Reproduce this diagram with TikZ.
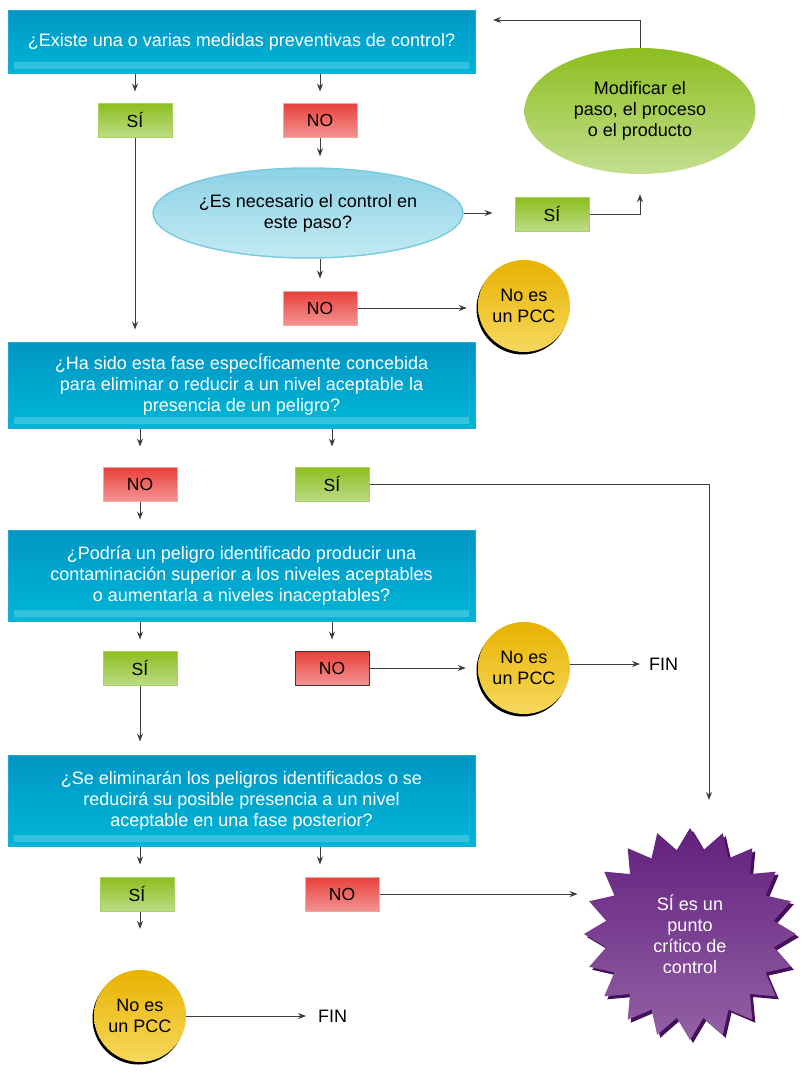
\documentclass[tikz,border=0pt]{standalone}
\usepackage{fontspec}
\setmainfont{Liberation Sans}
\usetikzlibrary{shapes.geometric,arrows.meta,shadows}

\definecolor{qtop}{HTML}{0096C4}
\definecolor{qbot}{HTML}{00B6D7}
\definecolor{qlite}{HTML}{38C4E0}
\definecolor{qedge}{HTML}{1FA9D4}
\definecolor{sitop}{HTML}{8CBE1E}
\definecolor{sibot}{HTML}{BCDC86}
\definecolor{siedge}{HTML}{A9D162}
\definecolor{notop}{HTML}{E8403A}
\definecolor{nobot}{HTML}{F39391}
\definecolor{noedge}{HTML}{F2A5A2}
\definecolor{pcctop}{HTML}{E8B200}
\definecolor{pccbot}{HTML}{F7D85E}
\definecolor{esntop}{HTML}{8CD2E6}
\definecolor{esnbot}{HTML}{C4EAF3}
\definecolor{esnedge}{HTML}{7CCAE0}
\definecolor{modtop}{HTML}{8CBE1E}
\definecolor{modbot}{HTML}{C3DF90}
\definecolor{startop}{HTML}{62207D}
\definecolor{starbot}{HTML}{9461A6}
\definecolor{starsh}{HTML}{45105A}
\definecolor{linegray}{HTML}{3C3C3C}

\begin{document}
\begin{tikzpicture}[x=1pt, y=-1pt,
  every node/.style={font=\fontsize{18}{21}\selectfont},
  qbox/.style={rectangle, minimum width=467pt, text=white, align=center,
    top color=qtop, bottom color=qbot, draw=qedge, line width=1pt,
    path picture={\shade[top color=qbot, bottom color=qlite]
      ([xshift=6pt,yshift=5pt]path picture bounding box.south west) rectangle
      ([xshift=-6pt,yshift=11pt]path picture bounding box.south east);}},
  sibox/.style={rectangle, minimum width=74pt, minimum height=34pt, inner sep=0pt,
    top color=sitop, bottom color=sibot, draw=siedge, line width=1pt,
    font=\fontsize{17.5}{20}\selectfont},
  nobox/.style={sibox, top color=notop, bottom color=nobot, draw=noedge},
  pcc/.style={circle, minimum size=92pt, inner sep=0pt, align=center,
    top color=pcctop, bottom color=pccbot,
    drop shadow={shadow xshift=-1.5pt, shadow yshift=-2.5pt, fill=black, opacity=1}},
  fin/.style={anchor=west, inner sep=0pt},
  arr/.style={draw=linegray, line width=0.9pt, -{Stealth[length=8pt,width=6pt]}}]

\useasboundingbox (0,0) rectangle (803,1076);

\node[qbox, minimum height=63pt] (q1) at (241.5,41.5) {¿Existe una o varias medidas preventivas de control?};
\node[sibox] (si1) at (135,120) {SÍ};
\node[nobox] (no1) at (320,120) {NO};
\node[ellipse, minimum width=310pt, minimum height=90pt, inner sep=0pt, align=center,
  top color=esntop, bottom color=esnbot, draw=esnedge, line width=1.5pt] (esn) at (308,213)
  {¿Es necesario el control en\\este paso?};
\node[sibox] (si2) at (552,214) {SÍ};
\node[ellipse, minimum width=231pt, minimum height=126pt, inner sep=0pt, align=center,
  top color=modtop, bottom color=modbot] (mod) at (640,111)
  {Modificar el\\paso, el proceso\\o el producto};
\coordinate (back) at (493,20);
\node[nobox] (no2) at (320,308) {NO};
\node[pcc] (pcc1) at (524,306) {No es\\un PCC};

\node[qbox, minimum height=86pt] (q2) at (241.5,385) {¿Ha sido esta fase especÍficamente concebida\\para eliminar o reducir a un nivel aceptable la\\presencia de un peligro?};
\node[nobox] (no3) at (140,484) {NO};
\node[sibox] (si3) at (332,484) {SÍ};
\coordinate (c1) at (709,800);

\node[qbox, minimum height=91pt] (q3) at (241.5,575.5) {¿Podría un peligro identificado producir una\\contaminación superior a los niveles aceptables\\o aumentarla a niveles inaceptables?};
\node[sibox] (si4) at (140,668) {SÍ};
\node[nobox, draw=linegray] (no4) at (332,668) {NO};
\node[pcc] (pcc2) at (524,668) {No es\\un PCC};
\node[fin] (fin1) at (649,664) {FIN};

\node[qbox, minimum height=91pt] (q4) at (241.5,800.5) {¿Se eliminarán los peligros identificados o se\\reducirá su posible presencia a un nivel\\aceptable en una fase posterior?};
\node[sibox] (si5) at (137,894) {SÍ};
\node[nobox] (no5) at (342,894) {NO};
\node[pcc] (pcc3) at (140,1016) {No es\\un PCC};
\node[fin] (fin2) at (318,1016) {FIN};

\node[star, star points=20, star point ratio=1.25, minimum size=212pt, inner sep=0pt,
  align=center, text=white, top color=startop, bottom color=starbot,
  drop shadow={shadow xshift=3pt, shadow yshift=-3pt, fill=starsh, opacity=1}] (pcc4) at (690,934)
  {SÍ es un\\punto\\crítico de\\control};

\draw[arr, shorten >=11pt] (q1.south -| si1) -- (si1.north);
\draw[arr, shorten >=11pt] (q1.south -| no1) -- (no1.north);
\draw[arr, shorten >=12pt] (si1.south) -- (q2.north -| si1);
\draw[arr, shorten >=11pt] (no1.south) -- (esn.north -| no1);
\draw[arr, shorten >=22pt] (esn.east) -- (esn.east -| si2.west);
\draw[arr, shorten >=20pt] (si2.east) -| (mod.south);
\draw[arr] (mod.north) |- (back);
\draw[arr, shorten >=12pt] (esn.south -| no2) -- (no2.north);
\draw[arr, shorten >=11pt] (no2.east) -- (no2.east -| pcc1.west);

\draw[arr, shorten >=20pt] (q2.south -| no3) -- (no3.north);
\draw[arr, shorten >=20pt] (q2.south -| si3) -- (si3.north);
\draw[arr] (si3.east) -| (c1);
\draw[arr, shorten >=10pt] (no3.south) -- (q3.north -| no3);

\draw[arr, shorten >=11pt] (q3.south -| si4) -- (si4.north);
\draw[arr, shorten >=11pt] (q3.south -| no4) -- (no4.north);
\draw[arr, shorten >=12pt] (no4.east) -- (no4.east -| pcc2.west);
\draw[arr, shorten >=9pt] (pcc2.east |- fin1.west) -- (fin1.west);
\draw[arr, shorten >=13pt] (si4.south) -- (q4.north -| si4);

\draw[arr, shorten >=12pt] ([xshift=3pt]q4.south -| si5) -- ([xshift=3pt]si5.north);
\draw[arr, shorten >=12pt] ([xshift=-22pt]q4.south -| no5) -- ([xshift=-22pt]no5.north);
\draw[arr, shorten >=6pt] (no5.east) -- (no5.east -| pcc4.west);
\draw[arr, shorten >=41pt] ([xshift=3pt]si5.south) -- (pcc3.north);
\draw[arr, shorten >=12pt] (pcc3.east) -- (fin2.west);
\end{tikzpicture}
\end{document}
